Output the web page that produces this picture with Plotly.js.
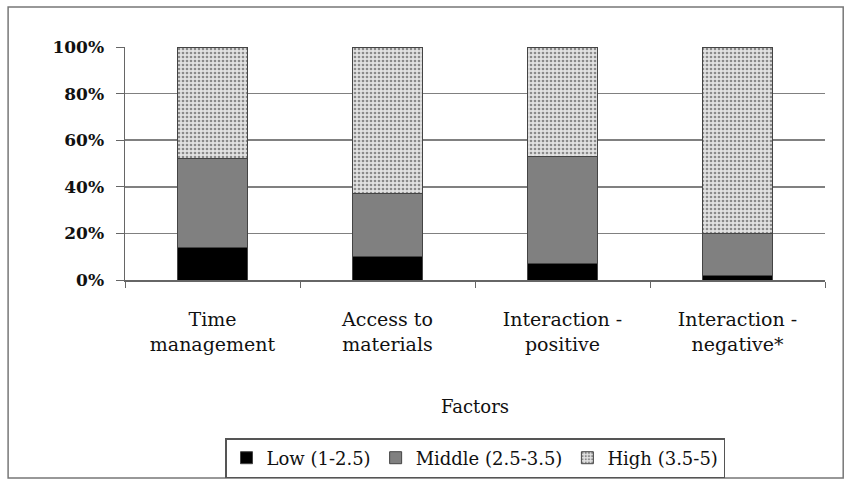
<!DOCTYPE html>
<html><head><meta charset="utf-8">
<script src="https://cdn.plot.ly/plotly-3.0.1.min.js"></script>
<style>body{margin:0;background:#fff}#c{width:852px;height:486px}</style>
</head><body><div id="c"></div>
<script>
const categories = ["Time<br>management", "Access to<br>materials", "Interaction -<br>positive", "Interaction -<br>negative*"];
const low = [14, 10, 7, 2];
const middle = [38, 27, 46, 18];
const high = [48, 63, 47, 80];
const seriesNames = ["Low (1-2.5)", "Middle (2.5-3.5)", "High (3.5-5)"];
const yTickVals = [0, 20, 40, 60, 80, 100];
const yTickText = ["0%", "20%", "40%", "60%", "80%", "100%"];

const line = {color: '#444', width: 1};
const traces = [
  {type: 'bar', name: seriesNames[0], x: categories, y: low, width: 0.4,
   marker: {color: '#000', line: line}},
  {type: 'bar', name: seriesNames[1], x: categories, y: middle, width: 0.4,
   marker: {color: '#808080', line: line}},
  {type: 'bar', name: seriesNames[2], x: categories, y: high, width: 0.4,
   marker: {color: '#d8d8d8', line: line,
     pattern: {shape: '.', bgcolor: '#e2e2e2', fgcolor: '#8a8a8a', size: 4, solidity: 0.35}}}
];
const fam = '"DejaVu Serif", serif';
const font = {family: fam, color: '#111'};
const layout = {
  width: 852, height: 486,
  margin: {l: 125, r: 27, t: 47, b: 206, autoexpand: false},
  barmode: 'stack',
  paper_bgcolor: '#fff', plot_bgcolor: '#fff',
  font: Object.assign({size: 18}, font),
  showlegend: true,
  legend: {orientation: 'h', x: 0.5, xanchor: 'center', y: -0.764, yanchor: 'middle',
    bordercolor: '#555', borderwidth: 1.5, font: Object.assign({size: 18}, font),
    traceorder: 'normal', itemwidth: 30, tracegroupgap: 0},
  xaxis: {type: 'category', automargin: false, showline: true, linecolor: '#666', linewidth: 1.5,
    ticks: 'outside', tickson: 'boundaries', ticklen: 6, tickcolor: '#666',
    ticklabelstandoff: 22,
    tickfont: Object.assign({size: 19}, font), showgrid: false,
    title: {text: 'Factors', font: Object.assign({size: 18}, font), standoff: 46}},
  yaxis: {range: [0, 100], automargin: false, tickvals: yTickVals, ticktext: yTickText,
    showline: true, linecolor: '#666', linewidth: 1.5, ticks: 'outside', ticklen: 8,
    tickcolor: '#666', gridcolor: '#808080', gridwidth: 1.5, zeroline: false,
    ticklabelstandoff: 8,
    tickfont: Object.assign({size: 17, weight: 'bold'}, font)},
  shapes: [{type: 'rect', xref: 'paper', yref: 'paper', x0: -0.167, x1: 1.026, y0: -0.85, y1: 1.172,
    line: {color: '#777', width: 1.5}}]
};
Plotly.newPlot('c', traces, layout, {staticPlot: true});
</script></body></html>
